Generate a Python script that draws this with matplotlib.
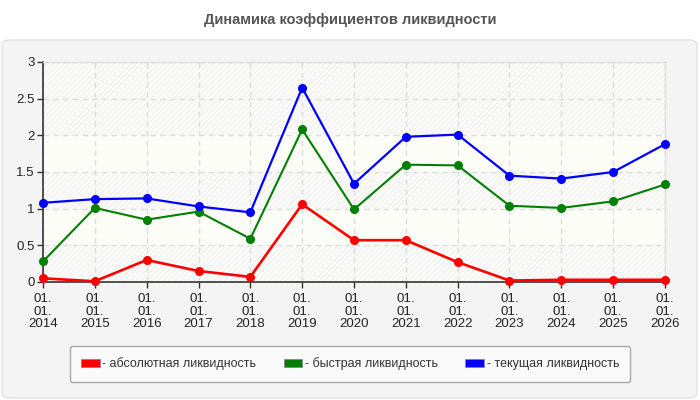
import matplotlib
matplotlib.use("Agg")
import matplotlib.pyplot as plt
from matplotlib.patches import FancyBboxPatch, Patch
import numpy as np

years = ["2014", "2015", "2016", "2017", "2018", "2019", "2020",
         "2021", "2022", "2023", "2024", "2025", "2026"]
x_labels = ["01.\n01.\n" + y for y in years]
absolute = [0.05, 0.01, 0.30, 0.15, 0.07, 1.06, 0.57, 0.57, 0.27, 0.02, 0.03, 0.03, 0.03]
quick = [0.28, 1.01, 0.85, 0.96, 0.59, 2.08, 0.99, 1.60, 1.59, 1.04, 1.01, 1.10, 1.33]
current = [1.08, 1.13, 1.14, 1.03, 0.95, 2.65, 1.34, 1.98, 2.01, 1.45, 1.41, 1.50, 1.88]
series_names = ["- абсолютная ликвидность", "- быстрая ликвидность", "- текущая ликвидность"]
colors = ["#ff0000", "#008000", "#0000ff"]
y_ticks = [0, 0.5, 1, 1.5, 2, 2.5, 3]
y_tick_labels = ["0", "0.5", "1", "1.5", "2", "2.5", "3"]

plt.rcParams['font.family'] = ['Liberation Sans', 'DejaVu Sans']
plt.rcParams['hatch.linewidth'] = 0.6

W, H = 700, 400
fig = plt.figure(figsize=(7, 4), dpi=100)
fig.patch.set_facecolor("white")

# panel
panel = FancyBboxPatch((2 / W, 2 / H), 695 / W, 358 / H,
                       boxstyle="round,pad=0,rounding_size=0.012",
                       transform=fig.transFigure, facecolor="#f4f4f4",
                       edgecolor="#e2e2e2", linewidth=1, zorder=-10)
fig.patches.append(panel)

fig.text(0.5, 1 - 20 / H, "Динамика коэффициентов ликвидности", ha="center", va="center",
         fontsize=10.5, fontweight="bold", color="#555555")

ax = fig.add_axes([43 / W, 1 - 282 / H, (665 - 43) / W, (282 - 62) / H])
ax.set_zorder(5)
ax.set_facecolor("#fdfdf8")
x = np.arange(len(years))

# banded background
for i in range(len(y_ticks) - 1):
    lo, hi = y_ticks[i], y_ticks[i + 1]
    if i % 2 == 0 or i == len(y_ticks) - 2:
        ax.axhspan(lo, hi, facecolor="#fcfcfa", edgecolor="#ebebeb", hatch="//////",
                   linewidth=0, zorder=0)

ax.grid(True, color="#dddddd", linestyle=(0, (4, 3)), linewidth=1, zorder=1)
ax.set_axisbelow(True)

lws = [1.9, 1.5, 1.6]
for vals, c, lw, name in zip([absolute, quick, current], colors, lws, series_names):
    ax.plot(x, vals, color=c, linewidth=lw, marker="o", markersize=5.5,
            clip_on=False, zorder=3, label=name)

ax.set_xlim(0, len(years) - 1)
ax.set_ylim(0, 3)
ax.set_xticks(x)
ax.set_xticklabels(x_labels, fontsize=9.5, color="#222222", linespacing=1.05)
ax.set_yticks(y_ticks)
ax.set_yticklabels(y_tick_labels, fontsize=9.5, color="#222222")
ax.tick_params(axis="x", direction="out", length=4, color="#333333", width=1, pad=4)
ax.tick_params(axis="y", direction="out", length=4, color="#333333", width=1, pad=2)

for s in ["left", "bottom"]:
    ax.spines[s].set_color("#333333")
    ax.spines[s].set_linewidth(1.2)
for s in ["top", "right"]:
    ax.spines[s].set_color("#dddddd")
    ax.spines[s].set_linewidth(1)

handles = [Patch(facecolor=c, edgecolor="#888888", linewidth=0.6) for c in colors]
leg = fig.legend(handles, series_names, loc="center",
                 bbox_to_anchor=(350 / W, 1 - 364 / H), ncol=3, fontsize=9,
                 frameon=True, fancybox=True, edgecolor="#aaaaaa", facecolor="#fafafa",
                 handlelength=1.5, handleheight=0.7, handletextpad=0.2,
                 columnspacing=2.2, borderpad=0.9, labelcolor="#333333")
leg.get_frame().set_linewidth(1)
leg.get_frame().set_alpha(1)

fig.savefig("out.png", dpi=100, facecolor=fig.get_facecolor())
